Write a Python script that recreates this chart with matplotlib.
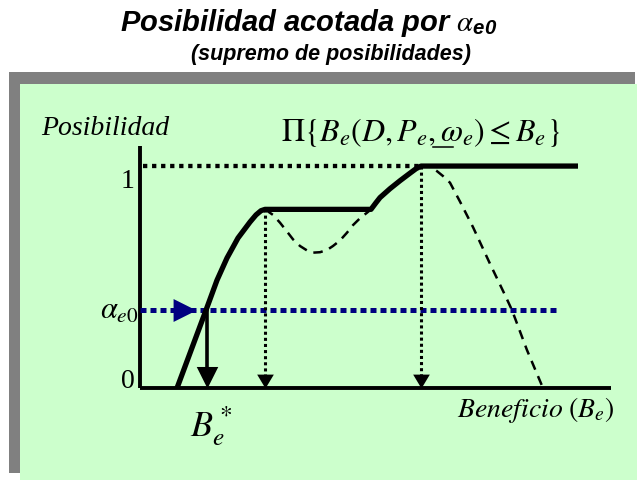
import numpy as np
import matplotlib.pyplot as plt
from matplotlib.patches import Rectangle

plt.rcParams['mathtext.fontset'] = 'stix'
plt.rcParams['font.family'] = ['Liberation Serif', 'DejaVu Serif']

# --- diagram values (x: beneficio, y: posibilidad) ---
alpha_e0 = 0.35
plateau = 0.805
b_star = 0.67
b_plateau = 1.25
b_peak = 2.81
x_end = 4.71
y_top = 1.09

# solid envelope Pi{B_e(D,P_e,w_e) <= B_e}
solid_x = [0.37, 0.66, 0.77, 0.87, 0.93, 0.98, 1.04, 1.10, 1.16, 1.21, 1.25,
           2.31, 2.36, 2.40, 2.50, 2.60, 2.70, 2.76, 2.81, 4.38]
solid_y = [0.00, 0.351, 0.486, 0.586, 0.635, 0.676, 0.712, 0.748, 0.78, 0.799, 0.805,
           0.805, 0.835, 0.858, 0.898, 0.934, 0.968, 0.988, 1.00, 1.00]

# dashed dip between the two plateaus
dip_x = [1.25, 1.33, 1.40, 1.47, 1.53, 1.60, 1.67, 1.73, 1.80, 1.87, 1.93, 2.00, 2.07, 2.13, 2.20, 2.27, 2.31]
dip_y = [0.805, 0.78, 0.745, 0.705, 0.67, 0.64, 0.62, 0.61, 0.612, 0.622, 0.64, 0.665, 0.70, 0.734, 0.765, 0.79, 0.805]

# dashed fall after the peak
fall_x = [2.81, 2.86, 2.91, 2.97, 3.03, 3.10, 3.20, 3.33, 3.50, 3.65, 3.72, 3.87, 4.03]
fall_y = [1.00, 1.002, 0.995, 0.977, 0.955, 0.925, 0.84, 0.725, 0.56, 0.419, 0.351, 0.171, 0.00]

W, H = 637, 480
fig = plt.figure(figsize=(W / 100, H / 100), dpi=100)

# slide background: grey shadow + green panel
fig.patches.append(Rectangle((9 / W, 7 / H), 626 / W, 401 / H,
                             transform=fig.transFigure, facecolor='#808080', edgecolor='none', zorder=0))
fig.patches.append(Rectangle((20 / W, 0), 617 / W, 396 / H,
                             transform=fig.transFigure, facecolor='#ccffcc', edgecolor='none', zorder=0))

ax = fig.add_axes([0, 0, 1, 1], zorder=2)
ax.set_xlim(-1.40, 4.97)
ax.set_ylim(-0.414, 1.748)
ax.axis('off')
ax.patch.set_alpha(0)

# axes
ax.plot([0, 0], [0, y_top], color='black', lw=2.8, solid_capstyle='butt')
ax.plot([0, x_end], [0, 0], color='black', lw=2.8, solid_capstyle='butt')

# reference lines
ax.plot([0.03, b_peak], [1, 1], color='black', lw=3.1, ls=(0, (1, 1.1)))
ax.plot([0, 4.19], [alpha_e0, alpha_e0], color='#000080', lw=3.6, ls=(0, (1.2, 0.8)))
ax.plot([b_plateau, b_plateau], [plateau, 0.06], color='black', lw=2.2, ls=(0, (1, 1)))
ax.plot([b_peak, b_peak], [1, 0.06], color='black', lw=2.2, ls=(0, (1, 1)))

# curves
ax.plot(dip_x, dip_y, color='black', lw=1.8, ls=(0, (3.8, 2.8)))
ax.plot(fall_x, fall_y, color='black', lw=1.8, ls=(0, (3.8, 2.8)))
ax.plot(solid_x, solid_y, color='black', lw=3.8, solid_joinstyle='round', solid_capstyle='butt')

# arrows
ax.plot([b_star, b_star], [alpha_e0, 0.08], color='black', lw=2.6)
head_down = [(0, 0), (-0.5, 1), (0.5, 1)]
ax.plot([b_star], [0], marker=head_down, ms=31, color='black', mew=0)
ax.plot([b_plateau, b_peak], [0, 0], ls='none', marker=[(0, 0), (-0.6, 1), (0.6, 1)], ms=20, color='black', mew=0)
ax.plot([0.56], [alpha_e0], marker=[(0, 0), (-1, 0.5), (-1, -0.5)], ms=33, color='#000080', mew=0)

# labels
ax.text(-0.35, 1.17, 'Posibilidad', style='italic', fontsize=20, ha='center', va='center')
ax.text(-0.12, 0.93, '1', fontsize=20, ha='center', va='center')
ax.text(-0.12, 0.0, '0', fontsize=20, ha='center', va='baseline')
ax.text(-0.02, alpha_e0 - 0.04, r'$\alpha_{e0}$', fontsize=22, ha='right', va='baseline')
ax.text(2.81, 1.153, r'$\Pi\left\{B_e\left(D, P_e, \omega_e\right) \leq B_e\right\}$',
        fontsize=23, ha='center', va='center')
ax.plot([2.93, 3.13], [1.086, 1.086], color='black', lw=1.1)  # underline of omega
ax.text(0.71, -0.17, r'$B_e^*$', fontsize=26, ha='center', va='center')
ax.text(4.75, -0.10, r'$\mathit{Beneficio}\ (B_e)$', fontsize=20, ha='right', va='center')

# titles
fig.text(309 / W, 449 / H, r'Posibilidad acotada por $\alpha_{\mathregular{e0}}$', family='Liberation Sans',
         weight='bold', style='italic', fontsize=21, ha='center', va='baseline')
fig.text(331 / W, 420 / H, '(supremo de posibilidades)', family='Liberation Sans',
         weight='bold', style='italic', fontsize=15.5, ha='center', va='baseline')

fig.savefig('out.png', dpi=100)
